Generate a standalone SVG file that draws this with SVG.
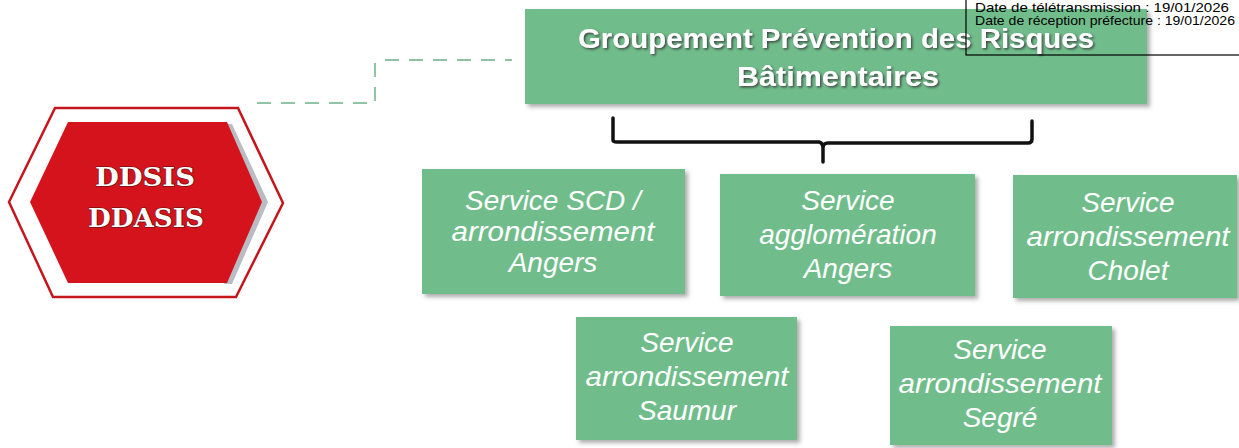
<svg xmlns="http://www.w3.org/2000/svg" width="1239" height="448" viewBox="0 0 1239 448">
<style>
.box{fill:#6fbd8b;}
.svc{font-family:"Liberation Sans",Arial,sans-serif;font-style:italic;font-size:28px;fill:#ffffff;text-anchor:middle;}
.title{font-family:"Liberation Sans",Arial,sans-serif;font-weight:bold;font-size:27px;fill:#ffffff;text-anchor:middle;}
.hex{font-family:"DejaVu Serif",serif;font-weight:bold;font-size:26px;fill:#ffffff;stroke:#5a1010;stroke-width:1.2;paint-order:stroke;text-anchor:middle;}
.date{font-family:"Liberation Sans",Arial,sans-serif;font-size:13px;fill:#000000;}
.dash{fill:none;stroke:#8fc4a6;stroke-width:2;stroke-dasharray:14 10;}
.brace{fill:none;stroke:#111111;stroke-width:3.5;stroke-linejoin:round;stroke-linecap:round;}
</style>
<defs>
<filter id="sh" x="-5%" y="-5%" width="115%" height="120%">
<feDropShadow dx="3" dy="3" stdDeviation="2" flood-color="#777777" flood-opacity="0.6"/>
</filter>
<filter id="tsh" x="-5%" y="-20%" width="110%" height="150%">
<feDropShadow dx="1.5" dy="1.5" stdDeviation="0.8" flood-color="#3a3a3a" flood-opacity="0.9"/>
</filter>
</defs>
<rect width="1239" height="448" fill="#ffffff"/>

<g id="connectors">
<path class="dash" d="M257 103 H375 V62 H383 M385 60 H512"/>
<path class="brace" d="M613 118 V140 Q613 142 617 142 L819 142 Q823 143 823 148 V162 M823 148 Q823 143 828 143 L1028 143 Q1032 143 1032 139 V121"/>
</g>

<g id="ddsis">
<polygon points="9,202 55,108 238,108 283,203 236,297 53,297" fill="#ffffff" stroke="#c4161c" stroke-width="2.5"/>
<polygon points="232,124 268,202 232,284 224,284 258,202 224,124" fill="#b9bcc2"/>
<polygon points="30,202 68,122 227,122 262,202 227,283 68,283" fill="#d4131c"/>
<text class="hex" x="145" y="186" textLength="100" lengthAdjust="spacingAndGlyphs">DDSIS</text>
<text class="hex" x="146" y="227" textLength="116" lengthAdjust="spacingAndGlyphs">DDASIS</text>
</g>

<g id="groupement">
<rect class="box" x="525" y="9" width="622" height="95" filter="url(#sh)"/>
<text class="title" x="836" y="48" filter="url(#tsh)" textLength="516" lengthAdjust="spacingAndGlyphs">Groupement Prévention des Risques</text>
<text class="title" x="838" y="86" filter="url(#tsh)" textLength="202" lengthAdjust="spacingAndGlyphs">Bâtimentaires</text>
</g>

<g id="date">
<rect x="966" y="-2" width="280" height="57" fill="none" stroke="#000000" stroke-width="1.2"/>
<text class="date" x="975" y="12" textLength="254" lengthAdjust="spacingAndGlyphs">Date de télétransmission : 19/01/2026</text>
<text class="date" x="975" y="25" textLength="260" lengthAdjust="spacingAndGlyphs">Date de réception préfecture : 19/01/2026</text>
</g>

<g id="svc-scd">
<rect class="box" x="422" y="169" width="263" height="125" filter="url(#sh)"/>
<text class="svc" x="553" y="210">Service SCD /</text>
<text class="svc" x="553" y="241" textLength="203" lengthAdjust="spacingAndGlyphs">arrondissement</text>
<text class="svc" x="553" y="272">Angers</text>
</g>

<g id="svc-agglo">
<rect class="box" x="720" y="174" width="255" height="122" filter="url(#sh)"/>
<text class="svc" x="848" y="210">Service</text>
<text class="svc" x="848" y="244">agglomération</text>
<text class="svc" x="848" y="278">Angers</text>
</g>

<g id="svc-cholet">
<rect class="box" x="1013" y="175" width="224" height="123" filter="url(#sh)"/>
<text class="svc" x="1128" y="212">Service</text>
<text class="svc" x="1128" y="246" textLength="203" lengthAdjust="spacingAndGlyphs">arrondissement</text>
<text class="svc" x="1128" y="280">Cholet</text>
</g>

<g id="svc-saumur">
<rect class="box" x="576" y="317" width="221" height="123" filter="url(#sh)"/>
<text class="svc" x="687" y="352">Service</text>
<text class="svc" x="687" y="386" textLength="203" lengthAdjust="spacingAndGlyphs">arrondissement</text>
<text class="svc" x="687" y="420">Saumur</text>
</g>

<g id="svc-segre">
<rect class="box" x="890" y="326" width="222" height="119" filter="url(#sh)"/>
<text class="svc" x="1000" y="359">Service</text>
<text class="svc" x="1000" y="393" textLength="203" lengthAdjust="spacingAndGlyphs">arrondissement</text>
<text class="svc" x="1000" y="427">Segré</text>
</g>
</svg>
